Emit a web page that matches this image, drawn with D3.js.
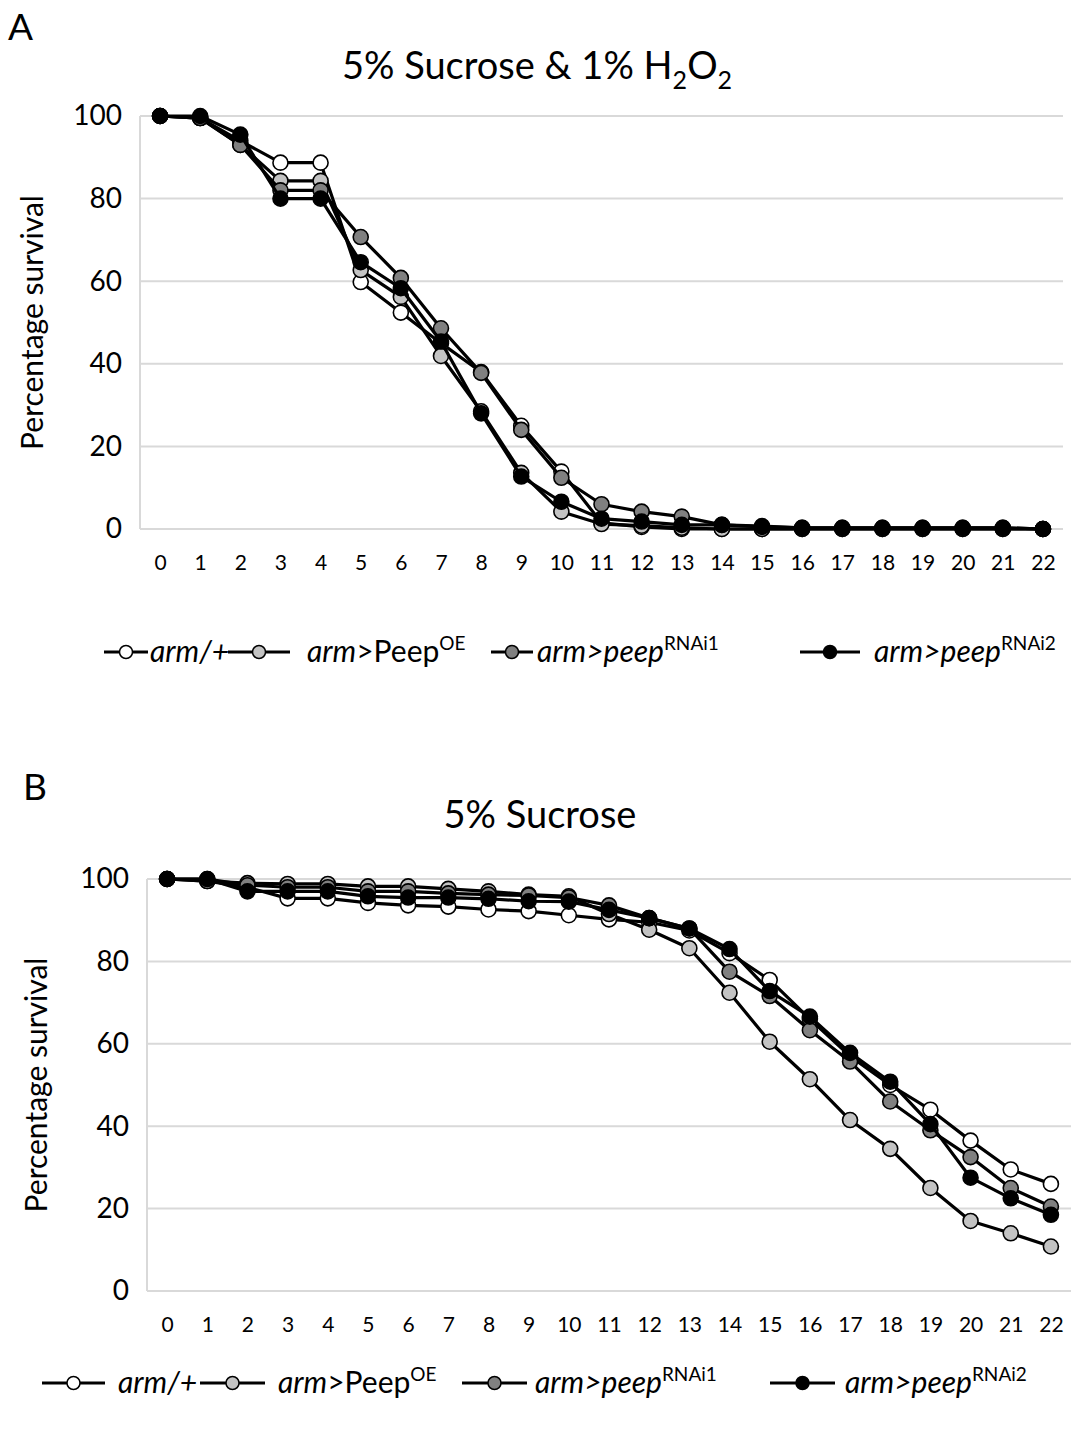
<!DOCTYPE html>
<html>
<head>
<meta charset="utf-8">
<script src="https://cdn.jsdelivr.net/npm/d3@7"></script>
<style>
  html, body { margin: 0; padding: 0; background: #fff; }
  svg { display: block; font-family: Lato, "Open Sans", sans-serif; }
</style>
</head>
<body>
<svg id="chart" width="1071" height="1434"></svg>
<script>
// Days after the start of exposure
const days = d3.range(0, 23);
const yTicks = [0, 20, 40, 60, 80, 100];

// Genotypes, in legend order
const genotypes = ["arm/+", "arm>PeepOE", "arm>peepRNAi1", "arm>peepRNAi2"];
const fills = ["#ffffff", "#c3c3c3", "#808080", "#000000"];

// Percentage survival, 5% sucrose + 1% H2O2
const h2o2ArmPlus = [100, 99.5, 94, 88.7, 88.7, 59.8, 52.4, 45, 38, 25, 13.9, 1.5, 0.5, 0, 0, 0, 0, 0, 0, 0, 0, 0, 0];
const h2o2PeepOE  = [100, 99.5, 93, 84.3, 84.3, 62.7, 56.2, 41.9, 28.5, 13.6, 4.2, 1.2, 0.8, 0.3, 0, 0, 0, 0, 0, 0, 0, 0, 0];
const h2o2RNAi1   = [100, 99.5, 93, 82, 82, 70.7, 60.8, 48.6, 37.8, 24, 12.4, 6, 4.2, 3, 1, 0.5, 0.3, 0.3, 0.3, 0.3, 0.3, 0.3, 0];
const h2o2RNAi2   = [100, 100, 95.5, 80, 80, 64.6, 58.3, 45.4, 28, 12.7, 6.6, 2.5, 1.8, 1, 1, 0.7, 0.3, 0.3, 0.3, 0.3, 0.3, 0.3, 0];

// Percentage survival, 5% sucrose only
const sucArmPlus = [100, 99.5, 98, 95.3, 95.3, 94.2, 93.6, 93.3, 92.6, 92.2, 91.2, 90.2, 89.5, 87.5, 82, 75.5, 66, 57, 50, 44, 36.5, 29.5, 26];
const sucPeepOE  = [100, 99.5, 99, 98.8, 98.8, 98.2, 98.2, 97.6, 97, 96.2, 95.8, 91.5, 87.7, 83.2, 72.4, 60.5, 51.4, 41.5, 34.5, 25, 17, 14, 10.8];
const sucRNAi1   = [100, 100, 98.5, 98, 98, 97, 97, 96.5, 96.2, 96, 95.5, 93.6, 90.5, 88, 77.5, 71.6, 63.3, 55.7, 46, 39, 32.5, 25, 20.5];
const sucRNAi2   = [100, 100, 97, 97, 97, 95.8, 95.5, 95.5, 95.2, 94.6, 94.5, 92.5, 90.5, 88, 83, 72.8, 66.6, 57.8, 50.8, 40.5, 27.5, 22.5, 18.5];

const svg = d3.select("#chart");

// Legend labels: italic gene names, upright superscripts
const legendParts = [
  [{t: "arm/+", i: true}],
  [{t: "arm", i: true}, {t: ">Peep", i: false}, {t: "OE", i: false, sup: true}],
  [{t: "arm>peep", i: true}, {t: "RNAi1", i: false, sup: true}],
  [{t: "arm>peep", i: true}, {t: "RNAi2", i: false, sup: true}]
];

function drawPanel(p) {
  const x = d3.scalePoint().domain(days).range([p.left, p.right]).padding(0.5);
  const y = d3.scaleLinear().domain([0, 100]).range([p.bottom, p.top]);
  const g = svg.append("g");

  // panel letter and title
  g.append("text").attr("x", p.letterX).attr("y", p.letterY)
    .attr("font-size", 37).attr("fill", "#000").text(p.letter);
  const title = g.append("text").attr("x", p.titleX).attr("y", p.titleY)
    .attr("text-anchor", "middle").attr("font-size", 38).attr("fill", "#000");
  p.title.forEach(part => {
    const ts = title.append("tspan").text(part.t);
    if (part.sub) ts.attr("font-size", 25).attr("dy", 10);
    else if (part.back) ts.attr("dy", -10);
  });

  // horizontal gridlines
  g.append("g").selectAll("line").data(yTicks.filter(d => d > 0)).join("line")
    .attr("x1", p.left).attr("x2", p.right)
    .attr("y1", d => y(d)).attr("y2", d => y(d))
    .attr("stroke", "#d9d9d9").attr("stroke-width", 2);

  // axis lines
  g.append("line").attr("x1", p.left).attr("x2", p.left)
    .attr("y1", y(100)).attr("y2", y(0)).attr("stroke", "#d9d9d9").attr("stroke-width", 2);
  g.append("line").attr("x1", p.left).attr("x2", p.right)
    .attr("y1", y(0)).attr("y2", y(0)).attr("stroke", "#d9d9d9").attr("stroke-width", 2);

  // y axis tick labels
  const yAxis = d3.axisLeft(y).tickValues(yTicks).tickSize(0).tickPadding(0);
  const ya = g.append("g").attr("transform", `translate(${p.left - 18},0)`).call(yAxis);
  ya.select(".domain").remove();
  ya.selectAll("text").attr("font-size", 28).attr("fill", "#000")
    .attr("font-family", "Lato, 'Open Sans', sans-serif");

  // x axis tick labels
  const xAxis = d3.axisBottom(x).tickSize(0).tickPadding(0);
  const xa = g.append("g").attr("transform", `translate(0,${p.bottom + 26})`).call(xAxis);
  xa.select(".domain").remove();
  xa.selectAll("text").attr("font-size", 21).attr("fill", "#000")
    .attr("font-family", "Lato, 'Open Sans', sans-serif");

  // y axis title
  g.append("text")
    .attr("transform", `translate(${p.yLabelX},${(y(0) + y(100)) / 2}) rotate(-90)`)
    .attr("text-anchor", "middle").attr("font-size", 30).attr("fill", "#000")
    .text("Percentage survival");

  // series
  const line = d3.line().x((d, i) => x(days[i])).y(d => y(d));
  p.series.forEach((vals, k) => {
    const s = g.append("g");
    s.append("path").datum(vals).attr("d", line)
      .attr("fill", "none").attr("stroke", "#000").attr("stroke-width", 3.2)
      .attr("stroke-linejoin", "round");
    s.selectAll("circle").data(vals).join("circle")
      .attr("cx", (d, i) => x(days[i])).attr("cy", d => y(d)).attr("r", 7.5)
      .attr("fill", fills[k]).attr("stroke", "#000").attr("stroke-width", 1.6);
  });

  // legend
  const lg = g.append("g");
  genotypes.forEach((name, k) => {
    const it = lg.append("g").attr("transform", `translate(0,${p.legendY})`);
    const [x0, x1, tx] = p.legendPos[k];
    it.append("line").attr("x1", x0).attr("x2", x1).attr("y1", 0).attr("y2", 0)
      .attr("stroke", "#000").attr("stroke-width", 3.2);
    it.append("circle").attr("cx", (x0 + x1) / 2).attr("cy", 0).attr("r", 6.5)
      .attr("fill", fills[k]).attr("stroke", "#000").attr("stroke-width", 1.5);
    const t = it.append("text").attr("x", tx).attr("y", 10).attr("font-size", 30).attr("fill", "#000");
    legendParts[k].forEach(part => {
      const ts = t.append("tspan").text(part.t)
        .attr("font-style", part.i ? "italic" : "normal");
      if (part.sup) ts.attr("font-size", 19).attr("dy", -12);
    });
  });
}

drawPanel({
  letter: "A", letterX: 8, letterY: 40,
  title: [{t: "5% Sucrose & 1% H"}, {t: "2", sub: true}, {t: "O", back: true}, {t: "2", sub: true}],
  titleX: 537, titleY: 79,
  left: 140, right: 1063, top: 116, bottom: 529,
  yLabelX: 43,
  series: [h2o2ArmPlus, h2o2PeepOE, h2o2RNAi1, h2o2RNAi2],
  legendY: 652,
  legendPos: [[104, 148, 150], [228, 290, 307], [491, 533, 537], [800, 860, 874]]
});

drawPanel({
  letter: "B", letterX: 23, letterY: 800,
  title: [{t: "5% Sucrose"}],
  titleX: 540, titleY: 828,
  left: 147, right: 1071, top: 879, bottom: 1291,
  yLabelX: 47,
  series: [sucArmPlus, sucPeepOE, sucRNAi1, sucRNAi2],
  legendY: 1383,
  legendPos: [[42, 105, 118], [200, 265, 278], [462, 527, 535], [770, 835, 845]]
});
</script>
</body>
</html>
